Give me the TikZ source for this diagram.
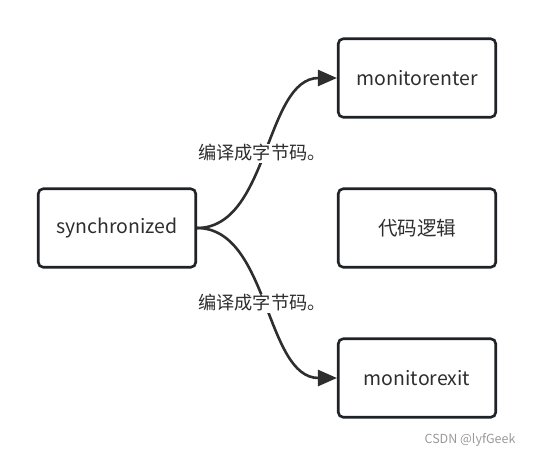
\documentclass[tikz,border=0pt]{standalone}
\usepackage{fontspec}
\setmainfont{Noto Sans CJK SC}
\usetikzlibrary{arrows.meta}

\definecolor{inkgray}{HTML}{2E2E2E}
\definecolor{boxline}{HTML}{1F2327}
\definecolor{marktext}{HTML}{9A9A9A}

\tikzset{
    box/.style={draw=boxline, line width=2.6pt, rounded corners=5pt, minimum width=157.5pt,
                minimum height=78.5pt, font=\fontsize{19.5}{22}\selectfont, text=inkgray},
    link/.style={draw=inkgray, line width=2.6pt, -{Triangle[length=19pt,width=16pt]}},
    linklabel/.style={fill=white, inner sep=1pt, font=\fontsize{18.2}{20}\selectfont, text=inkgray}
}

\begin{document}
\begin{tikzpicture}[x=1pt, y=-1pt]
    \useasboundingbox (0,0) rectangle (534,456);
    \node[box] (sync)  at (117,228) {synchronized};
    \node[box] (enter) at (417,78)  {monitorenter};
    \node[box] (logic) at (417,228) {代码逻辑};
    \node[box] (exit)  at (417,378) {monitorexit};

    \draw[link] (sync.east) .. controls +(72,0) and +(-72,0) .. (enter.west)
        node[linklabel, pos=0.5, xshift=-5pt] {编译成字节码。};
    \draw[link] (sync.east) .. controls +(72,0) and +(-72,0) .. (exit.west)
        node[linklabel, pos=0.5, xshift=-5pt] {编译成字节码。};

    \node[text=marktext, font=\fontsize{12.5}{14}\selectfont, anchor=east] (mark) at (519,440) {CSDN @lyfGeek};
\end{tikzpicture}
\end{document}
